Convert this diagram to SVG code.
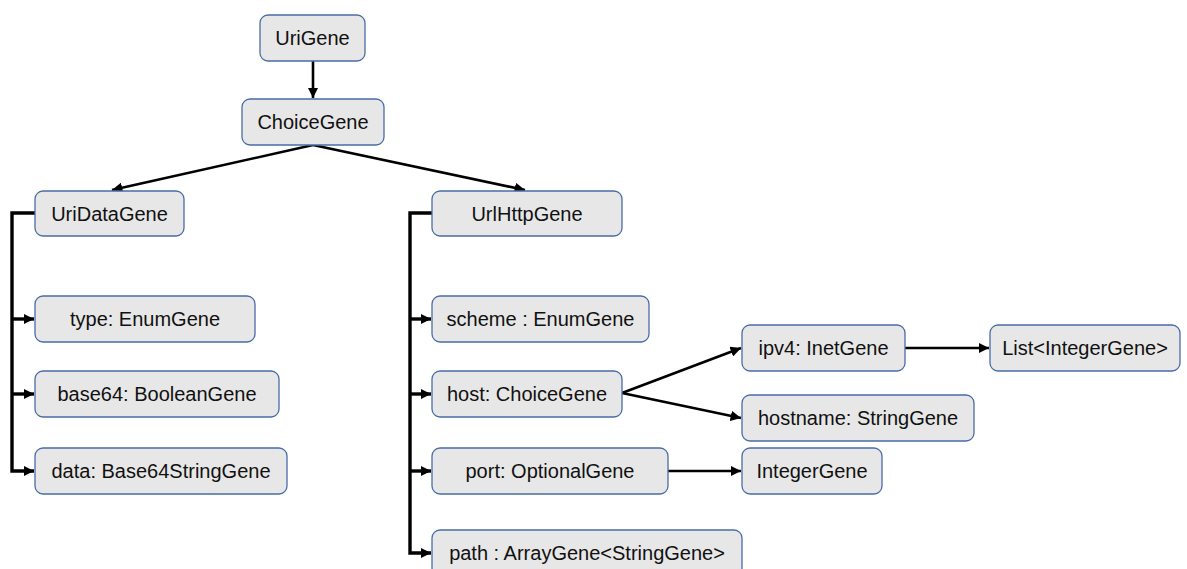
<svg xmlns="http://www.w3.org/2000/svg" width="1187" height="569" viewBox="0 0 1187 569">
<style>
.box{fill:#e7e7e7;stroke:#4a6ca8;stroke-width:1.3}
.t{font-family:"Liberation Sans",Arial,sans-serif;font-size:20px;fill:#111;text-anchor:middle}
.c{fill:none;stroke:#000;stroke-width:2.6}
.b{fill:none;stroke:#000;stroke-width:3.4}
</style>
<defs>
<marker id="ah" viewBox="0 0 10 10" refX="10" refY="5" markerWidth="4" markerHeight="4" orient="auto" markerUnits="strokeWidth">
<path d="M0,0 L10,5 L0,10 z" fill="#000"/>
</marker>
<marker id="bh" viewBox="0 0 10 10" refX="10" refY="5" markerWidth="3" markerHeight="3" orient="auto" markerUnits="strokeWidth">
<path d="M0,0 L10,5 L0,10 z" fill="#000"/>
</marker>
</defs>
<rect width="1187" height="569" fill="#fff"/>
<g id="connectors">
<path class="c" d="M313,61 V98" marker-end="url(#ah)"/>
<path class="c" d="M313,145 L112,190" marker-end="url(#ah)"/>
<path class="c" d="M313,145 L525,190" marker-end="url(#ah)"/>
<path class="b" d="M35,213 H12 V471 H34" marker-end="url(#bh)"/>
<path class="b" d="M12,319 H34" marker-end="url(#bh)"/>
<path class="b" d="M12,394 H34" marker-end="url(#bh)"/>
<path class="b" d="M432,213 H410 V553 H431" marker-end="url(#bh)"/>
<path class="b" d="M410,319 H431" marker-end="url(#bh)"/>
<path class="b" d="M410,394 H431" marker-end="url(#bh)"/>
<path class="b" d="M410,471 H431" marker-end="url(#bh)"/>
<path class="c" d="M622,393 L741,348" marker-end="url(#ah)"/>
<path class="c" d="M622,393 L741,418" marker-end="url(#ah)"/>
<path class="c" d="M668,471 H741" marker-end="url(#ah)"/>
<path class="c" d="M905,348 H989" marker-end="url(#ah)"/>
</g>
<g id="n-urigene"><rect class="box" x="260" y="15" width="105" height="46" rx="8"/><text class="t" x="312.5" y="45">UriGene</text></g>
<g id="n-choicegene"><rect class="box" x="242" y="99" width="142" height="46" rx="8"/><text class="t" x="313" y="129">ChoiceGene</text></g>
<g id="n-uridatagene"><rect class="box" x="35" y="191" width="149" height="45" rx="8"/><text class="t" x="109.5" y="220.5">UriDataGene</text></g>
<g id="n-type"><rect class="box" x="35" y="296" width="220" height="46" rx="8"/><text class="t" x="145" y="326">type: EnumGene</text></g>
<g id="n-base64"><rect class="box" x="35" y="371" width="244" height="46" rx="8"/><text class="t" x="157" y="401">base64: BooleanGene</text></g>
<g id="n-data"><rect class="box" x="35" y="448" width="252" height="46" rx="8"/><text class="t" x="161" y="478">data: Base64StringGene</text></g>
<g id="n-urlhttpgene"><rect class="box" x="432" y="191" width="190" height="45" rx="8"/><text class="t" x="527" y="220.5">UrlHttpGene</text></g>
<g id="n-scheme"><rect class="box" x="432" y="296" width="217" height="46" rx="8"/><text class="t" x="540.5" y="326">scheme : EnumGene</text></g>
<g id="n-host"><rect class="box" x="432" y="371" width="190" height="46" rx="8"/><text class="t" x="527" y="401">host: ChoiceGene</text></g>
<g id="n-port"><rect class="box" x="432" y="448" width="236" height="46" rx="8"/><text class="t" x="550" y="478">port: OptionalGene</text></g>
<g id="n-path"><rect class="box" x="432" y="530" width="310" height="46" rx="8"/><text class="t" x="587" y="560">path : ArrayGene&lt;StringGene&gt;</text></g>
<g id="n-ipv4"><rect class="box" x="742" y="325" width="163" height="46" rx="8"/><text class="t" x="823.5" y="355">ipv4: InetGene</text></g>
<g id="n-hostname"><rect class="box" x="742" y="395" width="232" height="46" rx="8"/><text class="t" x="858" y="425">hostname: StringGene</text></g>
<g id="n-integergene"><rect class="box" x="742" y="448" width="140" height="46" rx="8"/><text class="t" x="812" y="478">IntegerGene</text></g>
<g id="n-list"><rect class="box" x="990" y="325" width="190" height="46" rx="8"/><text class="t" x="1085" y="355">List&lt;IntegerGene&gt;</text></g>
</svg>
